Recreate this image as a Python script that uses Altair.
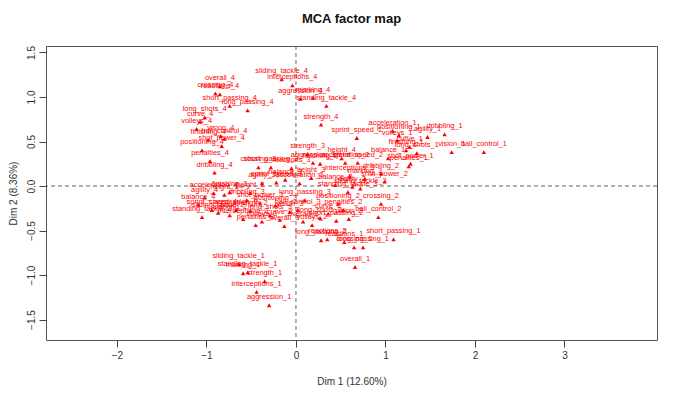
import altair as alt
import pandas as pd

labels = [
    # upper left (level 4, attacking)
    "overall_4", "crossing_4", "reactions_4", "short_passing_4", "long_passing_4",
    "long_shots_4", "curve_4", "volleys_4", "vision_4", "ball_control_4",
    "finishing_4", "shot_power_4", "positioning_4", "penalties_4", "dribbling_4",
    # upper centre (level 4, defensive)
    "sliding_tackle_4", "interceptions_4", "aggression_4", "marking_4",
    "standing_tackle_4", "strength_4",
    # upper right (level 1, attacking)
    "acceleration_1", "sprint_speed_1", "positioning_1", "agility_1", "dribbling_1",
    "volleys_1", "curve_1", "finishing_1", "long_shots_1", "vision_1",
    "ball_control_1", "balance_1", "shot_power_1", "penalties_1", "height_4",
    # right cluster
    "strength_3", "aggression_3", "finishing_2", "acceleration_2", "sprint_speed_2",
    "dribbling_2", "shot_power_2", "interceptions_3", "marking_3", "balance_2",
    "agility_2", "sliding_tackle_3", "standing_tackle_3", "long_passing_3",
    "positioning_2", "crossing_2", "ball_control_2", "vision_2", "short_passing_2",
    "long_shots_2", "volleys_2", "curve_2", "penalties_2", "overall_2",
    "long_passing_2", "reactions_2", "reactions_1", "crossing_1", "long_passing_1",
    "short_passing_1", "overall_1",
    # left cluster
    "crossing_3", "short_passing_3", "reactions_3", "agility_3", "sprint_speed_3",
    "balance_3", "acceleration_3", "height_3", "acceleration_4", "agility_4",
    "balance_4", "sprint_speed_4", "standing_tackle_2", "sliding_tackle_2",
    "marking_2", "aggression_2", "interceptions_2", "strength_2", "height_1",
    "height_2", "finishing_3", "dribbling_3", "shot_power_3", "positioning_3",
    "vision_3", "ball_control_3", "long_shots_3", "curve_3", "volleys_3",
    "penalties_3", "overall_3",
    # lower left (level 1, defensive)
    "sliding_tackle_1", "standing_tackle_1", "marking_1", "strength_1",
    "interceptions_1", "aggression_1",
]

dim1 = [
    -0.85, -0.90, -0.85, -0.74, -0.54,
    -1.02, -1.07, -1.11, -0.84, -0.80,
    -0.98, -0.83, -1.05, -0.96, -0.91,
    -0.16, -0.04, 0.05, 0.19,
    0.34, 0.28,
    1.08, 0.68, 1.15, 1.47, 1.66,
    1.13, 1.27, 1.23, 1.35, 1.74,
    2.10, 1.03, 1.28, 1.26, 0.51,
    0.13, 0.19, 0.27, 0.55, 0.69,
    0.95, 0.99, 0.60, 0.77, 0.44,
    0.63, 0.72, 0.58, 0.10,
    0.47, 0.95, 0.92, 0.59, 0.45,
    0.27, 0.18, 0.36, 0.53, 0.08,
    0.28, 0.35, 0.54, 0.65, 0.75,
    1.09, 0.66,
    -0.42, -0.28, -0.05, -0.38, -0.22,
    -0.12, 0.04, 0.17, -0.92, -1.02,
    -1.09, -0.94, -1.05, -0.87,
    -0.74, -0.67, -0.59, -0.51, -0.80,
    -0.51, -0.74, -0.55, -0.40, -0.23,
    -0.07, 0.02, -0.29, -0.18, -0.38,
    -0.45, -0.13,
    -0.64, -0.54, -0.59, -0.35,
    -0.44, -0.30,
]

dim2 = [
    1.12, 1.04, 1.03, 0.90, 0.85,
    0.77, 0.72, 0.64, 0.56, 0.53,
    0.52, 0.45, 0.40, 0.28, 0.15,
    1.20, 1.13, 0.98, 0.99,
    0.90, 0.69,
    0.62, 0.54, 0.57, 0.55, 0.58,
    0.51, 0.44, 0.40, 0.37, 0.38,
    0.38, 0.31, 0.25, 0.22, 0.31,
    0.36, 0.26, 0.25, 0.26, 0.26,
    0.14, 0.05, 0.11, 0.08, 0.01,
    -0.01, -0.03, -0.07, -0.16,
    -0.20, -0.20, -0.35, -0.37, -0.39,
    -0.36, -0.44, -0.31, -0.27, -0.40,
    -0.61, -0.60, -0.63, -0.69, -0.69,
    -0.60, -0.91,
    0.21, 0.21, 0.20, 0.03, 0.04,
    0.07, 0.03, 0.09, -0.08, -0.13,
    -0.21, -0.27, -0.35, -0.30,
    -0.33, -0.27, -0.37, -0.28, -0.10,
    -0.08, -0.07, -0.16, -0.19, -0.22,
    -0.29, -0.27, -0.33, -0.38, -0.40,
    -0.44, -0.45,
    -0.88, -0.97, -0.98, -1.07,
    -1.19, -1.34,
]

x_ticks = [-2, -1, 0, 1, 2, 3]
y_ticks = [-1.5, -1.0, -0.5, 0.0, 0.5, 1.0, 1.5]

df = pd.DataFrame({"label": labels, "dim1": dim1, "dim2": dim2})

FONT = "Liberation Sans"
xscale = alt.Scale(domain=[-2.793, 4.034], nice=False, zero=False)
yscale = alt.Scale(domain=[-1.730, 1.573], nice=False, zero=False)

xaxis = alt.Axis(values=x_ticks, title="Dim 1 (12.60%)", grid=False, domain=False,
                 tickSize=7, tickColor="#444", labelFontSize=10, titleFontSize=10,
                 labelFont=FONT, titleFont=FONT, titleFontWeight="normal",
                 labelColor="#333", titleColor="#333", labelPadding=3,
                 titlePadding=16, labelFlush=False)
yaxis = alt.Axis(values=y_ticks, title="Dim 2 (8.36%)", grid=False, domain=False,
                 tickSize=7, tickColor="#444", labelFontSize=10, titleFontSize=10,
                 labelFont=FONT, titleFont=FONT, titleFontWeight="normal",
                 labelColor="#333", titleColor="#333", labelAngle=270,
                 labelAlign="center", labelBaseline="bottom", labelPadding=3,
                 titlePadding=8, format=".1f", labelFlush=False)

base = alt.Chart(df)

vline = alt.Chart(pd.DataFrame({"v": [0]})).mark_rule(
    color="#666", strokeDash=[4, 3], strokeWidth=1
).encode(x=alt.X("v:Q", scale=xscale, axis=xaxis))
hline = alt.Chart(pd.DataFrame({"v": [0]})).mark_rule(
    color="#666", strokeDash=[4, 3], strokeWidth=1
).encode(y=alt.Y("v:Q", scale=yscale, axis=yaxis))

points = base.mark_point(shape="triangle-up", filled=True, color="#ff0000",
                         size=20, opacity=1).encode(
    x=alt.X("dim1:Q", scale=xscale, axis=xaxis),
    y=alt.Y("dim2:Q", scale=yscale, axis=yaxis),
)
texts = base.mark_text(color="#ff0000", font=FONT, fontSize=7.4, dy=-8,
                       baseline="middle").encode(
    x=alt.X("dim1:Q", scale=xscale, axis=xaxis),
    y=alt.Y("dim2:Q", scale=yscale, axis=yaxis),
    text="label:N",
)

chart = alt.layer(vline, hline, points, texts).properties(
    width=611, height=294,
    autosize=alt.AutoSizeParams(type="none"),
    padding={"left": 38, "top": 38, "right": 10, "bottom": 51},
    title=alt.TitleParams("MCA factor map", font=FONT, fontSize=13,
                          fontWeight="bold", anchor="middle", offset=20,
                          color="#111"),
).configure_view(stroke="#555", strokeWidth=1)

chart.save("out.html", embed_options={"renderer": "svg", "actions": False})
